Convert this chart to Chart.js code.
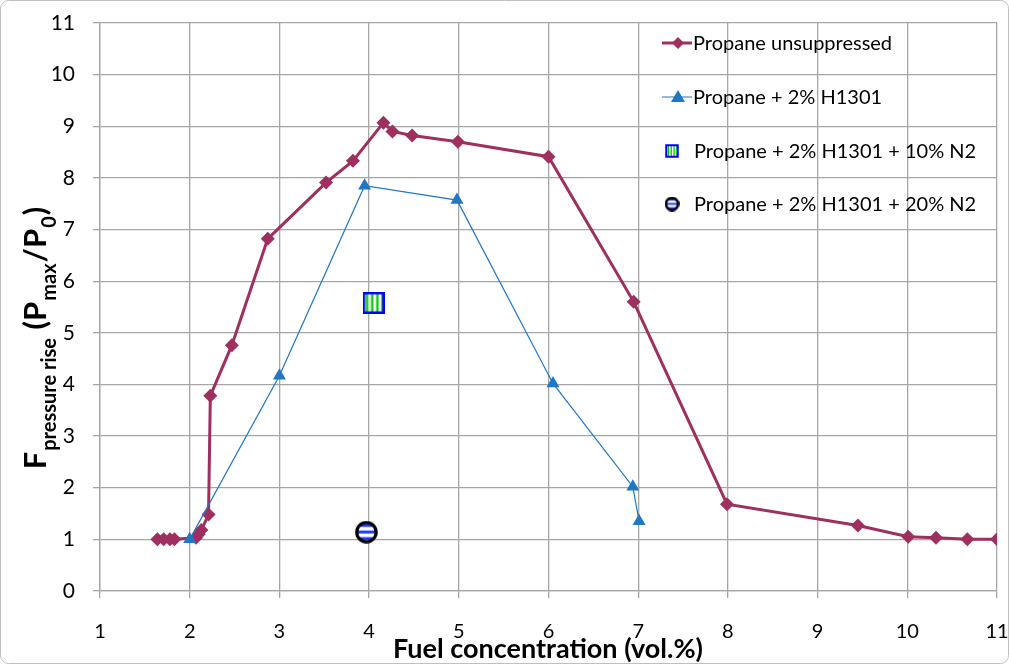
<!DOCTYPE html>
<html>
<head>
<meta charset="utf-8">
<script src="https://cdn.jsdelivr.net/npm/chart.js@4.4.1/dist/chart.umd.min.js"></script>
<style>
  html, body { margin: 0; padding: 0; background: #fff; }
  #wrap { width: 1009px; height: 664px; position: relative; }
</style>
</head>
<body>
<div id="wrap"><canvas id="c"></canvas></div>
<script>
// ---- data ----
var unsupX = [1.64, 1.71, 1.78, 1.83, 2.07, 2.10, 2.13, 2.21, 2.23, 2.47, 2.87, 3.52, 3.82, 4.16, 4.26, 4.48, 4.99, 6.00, 6.95, 7.99, 9.45, 10.01, 10.32, 10.67, 11.0];
var unsupY = [1.0, 1.0, 1.0, 1.0, 1.03, 1.1, 1.18, 1.48, 3.78, 4.76, 6.82, 7.91, 8.33, 9.07, 8.9, 8.82, 8.7, 8.41, 5.6, 1.68, 1.27, 1.05, 1.03, 1.0, 1.0];

var h1301X = [2.0, 3.0, 3.95, 4.98, 6.05, 6.94, 7.01];
var h1301Y = [1.0, 4.17, 7.85, 7.57, 4.02, 2.02, 1.35];

var n2TenX = [4.05];
var n2TenY = [5.58];

var n2TwentyX = [3.97];
var n2TwentyY = [1.14];

var seriesNames = ['Propane unsuppressed', 'Propane + 2% H1301', 'Propane + 2% H1301 + 10% N2', 'Propane + 2% H1301 + 20% N2'];
var xTicks = [1, 2, 3, 4, 5, 6, 7, 8, 9, 10, 11];
var yTicks = [0, 1, 2, 3, 4, 5, 6, 7, 8, 9, 10, 11];

var MAROON = '#9E2F5E';
var BLUE   = '#1F77C6';
var FONT   = 'Lato, "Liberation Sans", sans-serif';

function pairs(xs, ys) {
  return xs.map(function (x, i) { return { x: x, y: ys[i] }; });
}

// striped square marker (blue frame, green/white vertical stripes)
function makeSquare(size) {
  var c = document.createElement('canvas');
  c.width = size; c.height = size;
  var g = c.getContext('2d');
  g.fillStyle = '#fff';
  g.fillRect(0, 0, size, size);
  var n = 7, w = (size - 4) / n;
  for (var i = 0; i < n; i += 2) {
    g.fillStyle = '#00C800';
    g.fillRect(2 + i * w + w * 0.5, 2, w * 0.9, size - 4);
  }
  g.strokeStyle = '#0000FF';
  g.lineWidth = size > 16 ? 2.5 : 2;
  g.strokeRect(1.25, 1.25, size - 2.5, size - 2.5);
  return c;
}

// striped circle marker (black ring, blue/white horizontal stripes)
function makeCircle(size) {
  var c = document.createElement('canvas');
  c.width = size; c.height = size;
  var g = c.getContext('2d');
  var r = size / 2;
  g.save();
  g.beginPath(); g.arc(r, r, r - 1, 0, Math.PI * 2); g.clip();
  g.fillStyle = '#fff';
  g.fillRect(0, 0, size, size);
  var n = 7, h = size / n;
  for (var i = 1; i < n; i += 2) {
    g.fillStyle = '#1E3CFF';
    g.fillRect(0, i * h, size, h * 0.9);
  }
  g.restore();
  g.beginPath(); g.arc(r, r, r - (size > 16 ? 1.8 : 1.4), 0, Math.PI * 2);
  g.strokeStyle = '#000';
  g.lineWidth = size > 16 ? 3.2 : 2.6;
  g.stroke();
  return c;
}

var sqBig = makeSquare(22), sqSmall = makeSquare(14);
var ciBig = makeCircle(23), ciSmall = makeCircle(15);

var decor = {
  id: 'decor',
  beforeDraw: function (chart) {
    var ctx = chart.ctx;
    ctx.save();
    ctx.fillStyle = '#fff';
    ctx.fillRect(0, 0, chart.width, chart.height);
    ctx.restore();
  },
  afterDraw: function (chart) {
    var ctx = chart.ctx;
    ctx.save();

    // outer frame
    ctx.strokeStyle = '#BFBFBF';
    ctx.lineWidth = 1;
    ctx.beginPath();
    if (ctx.roundRect) ctx.roundRect(0.5, 0.5, chart.width - 1, chart.height - 1, 8);
    else ctx.rect(0.5, 0.5, chart.width - 1, chart.height - 1);
    ctx.stroke();

    // x title
    ctx.fillStyle = '#000';
    ctx.font = 'bold 27px ' + FONT;
    ctx.textAlign = 'center';
    ctx.textBaseline = 'alphabetic';
    ctx.fillText('Fuel concentration (vol.%)', 548, 658);

    // y title with subscripts
    var parts = [
      ['F', 0], ['pressure rise', 1], [' (P', 0], ['max', 1], ['/P', 0], ['0', 1], [')', 0]
    ];
    var bigF = 'bold 31px ' + FONT, smallF = 'bold 20px ' + FONT;
    var total = 0;
    parts.forEach(function (p) {
      ctx.font = p[1] ? smallF : bigF;
      total += ctx.measureText(p[0]).width + (p[1] ? 2 : 0);
    });
    ctx.translate(46, 338);
    ctx.rotate(-Math.PI / 2);
    ctx.textAlign = 'left';
    var px = -total / 2;
    parts.forEach(function (p) {
      ctx.font = p[1] ? smallF : bigF;
      if (p[1]) px += 1;
      ctx.fillText(p[0], px, p[1] ? 10 : 0);
      px += ctx.measureText(p[0]).width + (p[1] ? 1 : 0);
    });
    ctx.setTransform(1, 0, 0, 1, 0, 0);

    // legend inside plot area
    var rows = [43, 97, 151, 204];
    var tx = 693;
    ctx.textBaseline = 'middle';
    // row 1: maroon line + diamond
    ctx.strokeStyle = MAROON; ctx.lineWidth = 3;
    ctx.beginPath(); ctx.moveTo(662, rows[0]); ctx.lineTo(692, rows[0]); ctx.stroke();
    ctx.fillStyle = MAROON;
    ctx.beginPath();
    ctx.moveTo(678, rows[0] - 6); ctx.lineTo(684, rows[0]); ctx.lineTo(678, rows[0] + 6); ctx.lineTo(672, rows[0]);
    ctx.closePath(); ctx.fill();
    // row 2: blue line + triangle
    ctx.strokeStyle = BLUE; ctx.lineWidth = 1;
    ctx.beginPath(); ctx.moveTo(662, rows[1]); ctx.lineTo(692, rows[1]); ctx.stroke();
    ctx.fillStyle = BLUE;
    ctx.beginPath();
    ctx.moveTo(678, rows[1] - 7); ctx.lineTo(685, rows[1] + 5); ctx.lineTo(671, rows[1] + 5);
    ctx.closePath(); ctx.fill();
    // rows 3 & 4: pattern markers
    ctx.drawImage(sqSmall, 672 - 7, rows[2] - 7);
    ctx.drawImage(ciSmall, 672 - 7.5, rows[3] - 7.5);

    ctx.font = '20px ' + FONT;
    ctx.fillStyle = '#000';
    ctx.textAlign = 'left';
    seriesNames.forEach(function (name, i) {
      ctx.fillText(name, i < 2 ? tx : tx + 1, rows[i] + 1);
    });

    ctx.restore();
  }
};

new Chart(document.getElementById('c'), {
  type: 'scatter',
  data: {
    datasets: [
      {
        label: seriesNames[0],
        data: pairs(unsupX, unsupY),
        showLine: true,
        borderColor: MAROON,
        backgroundColor: MAROON,
        borderWidth: 3,
        pointStyle: 'rectRot',
        pointRadius: 7,
        pointBorderWidth: 0,
        order: 2
      },
      {
        label: seriesNames[1],
        data: pairs(h1301X, h1301Y),
        showLine: true,
        borderColor: BLUE,
        backgroundColor: BLUE,
        borderWidth: 1.2,
        pointStyle: 'triangle',
        pointRadius: 7.5,
        pointBorderWidth: 0,
        order: 1
      },
      {
        label: seriesNames[2],
        data: pairs(n2TenX, n2TenY),
        pointStyle: sqBig,
        order: 0
      },
      {
        label: seriesNames[3],
        data: pairs(n2TwentyX, n2TwentyY),
        pointStyle: ciBig,
        order: 0
      }
    ]
  },
  options: {
    responsive: true,
    maintainAspectRatio: false,
    animation: false,
    layout: { padding: { left: 0, top: 23, right: 12, bottom: 0 } },
    plugins: { legend: { display: false }, tooltip: { enabled: false } },
    scales: {
      x: {
        type: 'linear',
        min: 1, max: 11,
        afterBuildTicks: function (s) { s.ticks = xTicks.map(function (v) { return { value: v }; }); },
        afterFit: function (s) { s.height = 73; s.paddingRight = 0; s.paddingLeft = 0; },
        grid: { color: '#A6A6A6', lineWidth: 1.3, tickLength: 7, drawTicks: true },
        border: { color: '#A6A6A6', width: 1.3 },
        ticks: { color: '#000', padding: 22, font: { family: FONT, size: 20 }, maxRotation: 0 }
      },
      y: {
        min: 0, max: 11,
        afterBuildTicks: function (s) { s.ticks = yTicks.map(function (v) { return { value: v }; }); },
        afterFit: function (s) { s.width = 100; s.paddingTop = 0; s.paddingBottom = 0; },
        grid: { color: '#A6A6A6', lineWidth: 1.3, tickLength: 7, drawTicks: true },
        border: { color: '#A6A6A6', width: 1.3 },
        ticks: { color: '#000', padding: 18, font: { family: FONT, size: 21 } }
      }
    }
  },
  plugins: [decor]
});
</script>
</body>
</html>
